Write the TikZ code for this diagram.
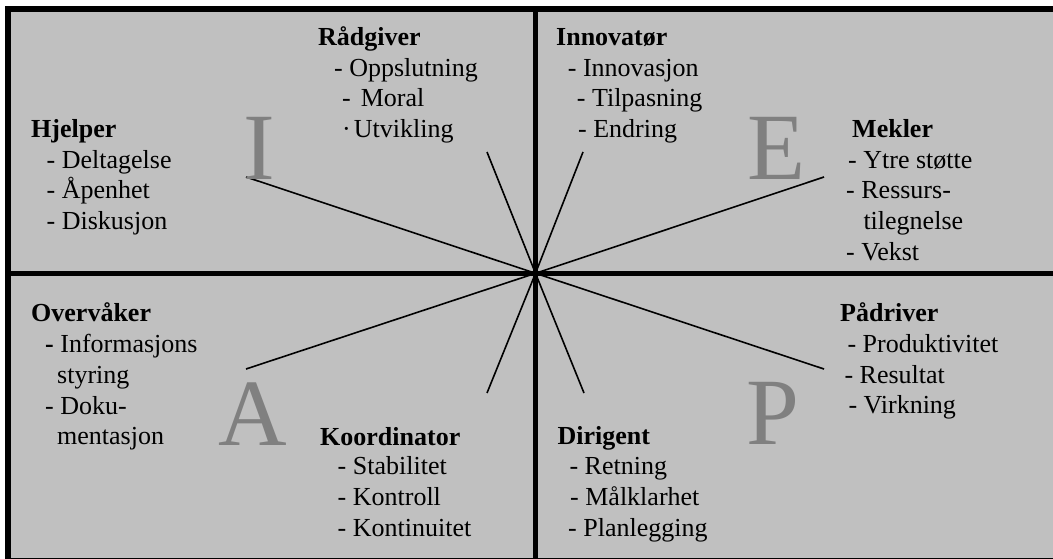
\documentclass[tikz,border=0pt]{standalone}
\usepackage{fontspec}
\setmainfont{Liberation Serif}
\definecolor{panel}{HTML}{C0C0C0}
\definecolor{lettergray}{HTML}{808080}
\tikzset{
  item/.style={anchor=base west, inner sep=0pt, font=\fontsize{26}{30}\selectfont},
  role/.style={item, font=\fontsize{26}{30}\selectfont\bfseries},
  quad/.style={anchor=base west, inner sep=0pt, text=lettergray, font=\fontsize{95}{95}\selectfont},
  outer/.style={line width=6pt},
  divider/.style={line width=4.5pt},
  spoke/.style={line width=1.6pt},
}
\begin{document}
\begin{tikzpicture}[x=1pt,y=-1pt]
\useasboundingbox (0,0) rectangle (1053,559);
\clip (0,0) rectangle (1053,559);
% panel and frame
\fill[panel] (8,9) rectangle (1060,565);
\draw[outer] (8,9) rectangle (1060,561);
\draw[divider] (535.5,9) -- (535.5,561);
\draw[divider] (8,273.3) -- (1060,273.3);

% spokes meeting in the centre
\coordinate (c) at (535.5,273.3);
\coordinate (s1) at (246,177);
\coordinate (s2) at (487,152);
\coordinate (s3) at (583,152);
\coordinate (s4) at (824,177);
\coordinate (s5) at (246,369);
\coordinate (s6) at (487,393);
\coordinate (s7) at (584,393);
\coordinate (s8) at (824,369);
\foreach \s in {s1,s2,s3,s4,s5,s6,s7,s8} \draw[spoke] (\s) -- (c);

% quadrant letters
\node[quad] (qI) at (243,179) {I};
\node[quad] (qE) at (747,179) {E};
\node[quad] (qA) at (218.5,445) {A};
\node[quad] (qP) at (746.5,444) {P};

% Hjelper
\node[role] (hj0) at (31,137.7) {Hjelper};
\node[item] (hj1) at (46.5,168) {- Deltagelse};
\node[item] (hj2) at (46.5,199) {- Åpenhet};
\node[item] (hj3) at (46.5,229.5) {- Diskusjon};

% Rådgiver
\node[role] (ra0) at (318,45.7) {Rådgiver};
\node[item] (ra1) at (334,76.5) {- Oppslutning};
\node[item] (ra2) at (342,107) {-\hspace{10pt}Moral};
\node[item] (ra3) at (342,137.5) {·\hspace{3pt}Utvikling};

% Innovatør
\node[role] (in0) at (556,45.7) {Innovatør};
\node[item] (in1) at (567.7,76.5) {- Innovasjon};
\node[item] (in2) at (576.7,107) {- Tilpasning};
\node[item] (in3) at (578,137.5) {- Endring};

% Mekler
\node[role] (me0) at (852,137.7) {Mekler};
\node[item] (me1) at (848,168) {- Ytre støtte};
\node[item] (me2) at (846,199) {- Ressurs-};
\node[item] (me3) at (863.3,229.5) {tilegnelse};
\node[item] (me4) at (846,260) {- Vekst};

% Overvåker
\node[role] (ov0) at (31,321.7) {Overvåker};
\node[item] (ov1) at (45,352.5) {\textbf{-} Informasjons};
\node[item] (ov2) at (57,383) {styring};
\node[item] (ov3) at (45,414) {- Doku-};
\node[item] (ov4) at (57,444.5) {mentasjon};

% Koordinator
\node[role] (ko0) at (320,445) {Koordinator};
\node[item] (ko1) at (337.5,474.5) {- Stabilitet};
\node[item] (ko2) at (337.5,505.5) {- Kontroll};
\node[item] (ko3) at (337.5,536.5) {- Kontinuitet};

% Pådriver
\node[role] (pa0) at (840,321.7) {Pådriver};
\node[item] (pa1) at (847.3,352.5) {- Produktivitet};
\node[item] (pa2) at (844.3,383) {- Resultat};
\node[item] (pa3) at (848.3,413.5) {- Virkning};

% Dirigent
\node[role] (di0) at (557.3,444) {Dirigent};
\node[item] (di1) at (569.3,474.5) {- Retning};
\node[item] (di2) at (570,505) {- Målklarhet};
\node[item] (di3) at (568,536) {- Planlegging};
\end{tikzpicture}
\end{document}
